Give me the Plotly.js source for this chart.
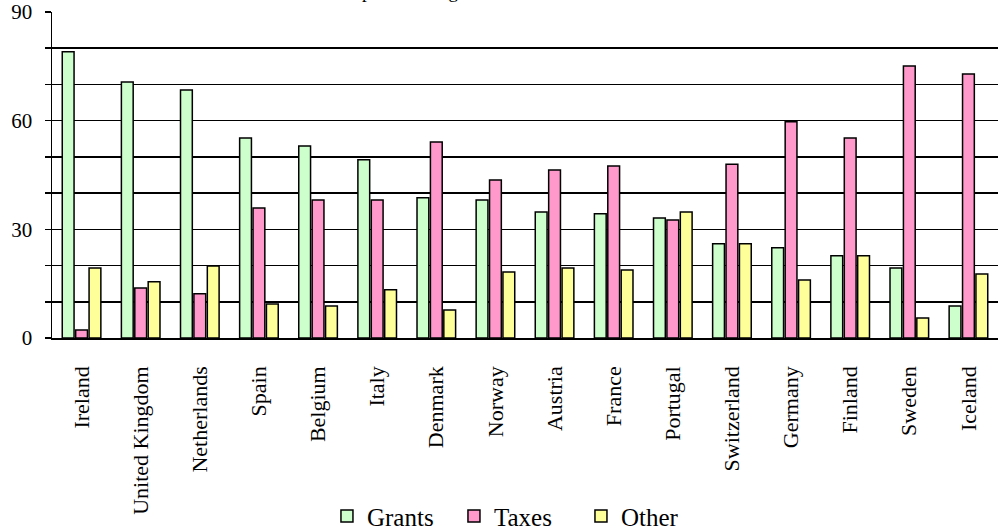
<!DOCTYPE html>
<html>
<head>
<meta charset="utf-8">
<script src="https://cdn.plot.ly/plotly-3.0.1.min.js"></script>
<style>html,body{margin:0;padding:0;background:#fff}#chart{width:998px;height:530px}</style>
</head>
<body>
<div id="chart"></div>
<script>
const countries = ["Ireland","United Kingdom","Netherlands","Spain","Belgium","Italy","Denmark","Norway","Austria","France","Portugal","Switzerland","Germany","Finland","Sweden","Iceland"];
const grants = [79.0, 70.7, 68.5, 55.2, 53.0, 49.2, 38.7, 38.1, 34.8, 34.3, 33.1, 26.0, 24.9, 22.7, 19.3, 8.8];
const taxes  = [2.2, 13.8, 12.2, 35.9, 38.1, 38.1, 54.1, 43.6, 46.4, 47.5, 32.6, 48.0, 59.7, 55.2, 75.1, 72.9];
const other  = [19.3, 15.5, 19.9, 9.4, 8.8, 13.3, 7.7, 18.2, 19.3, 18.8, 34.8, 26.0, 16.0, 22.7, 5.5, 17.7];
const seriesNames = ["Grants","Taxes","Other"];
const yTickVals = [0,10,20,30,40,50,60,70,80,90];
const yTickText = ["0","","","30","","","60","","","90"];
const titleText = "Composition of government revenue";

const colors = ["#CCFFCC","#FF99CC","#FFFF99"];
const serif = "'Liberation Serif', 'Times New Roman', serif";
const traces = [grants, taxes, other].map((vals, i) => ({
  type: "bar",
  name: seriesNames[i],
  x: countries,
  y: vals,
  marker: {color: colors[i], line: {color: "#000", width: 1.5}}
}));

const layout = {
  width: 998, height: 530,
  margin: {l: 52, r: 0, t: 12, b: 192},
  paper_bgcolor: "#fff", plot_bgcolor: "#fff",
  font: {family: serif, size: 20, color: "#000"},
  barmode: "group",
  bargap: 0.32,
  bargroupgap: 0.12,
  showlegend: true,
  legend: {
    orientation: "h", x: 0.5185, xref: "container", xanchor: "center",
    y: 0.026, yref: "container", yanchor: "middle",
    font: {family: serif, size: 25, color: "#000"},
    itemwidth: 30, entrywidth: 82, entrywidthmode: "pixels"
  },
  xaxis: {
    type: "category",
    showline: true, linecolor: "#000", linewidth: 1.5,
    ticks: "", tickangle: -90, ticklabelstandoff: 18,
    showgrid: false, zeroline: false,
    tickfont: {family: serif, size: 22, color: "#000"}
  },
  yaxis: {
    range: [0, 90],
    tickmode: "array", tickvals: yTickVals, ticktext: yTickText,
    showline: true, linecolor: "#000", linewidth: 1.5,
    ticks: "outside", ticklen: 6, tickcolor: "#000", tickwidth: 1.5,
    ticklabelstandoff: 8, ticklabeloverflow: "allow",
    showgrid: true, gridcolor: "#000", gridwidth: 1.5,
    zeroline: false,
    tickfont: {family: serif, size: 21, color: "#000"}
  },
  annotations: [{
    text: titleText, xref: "paper", yref: "paper",
    x: 0.2865, y: 1, xanchor: "left", yanchor: "bottom", yshift: 8,
    showarrow: false, font: {family: serif, size: 19, color: "#000"}
  }]
};

Plotly.newPlot("chart", traces, layout, {displayModeBar: false, staticPlot: true});
</script>
</body>
</html>
